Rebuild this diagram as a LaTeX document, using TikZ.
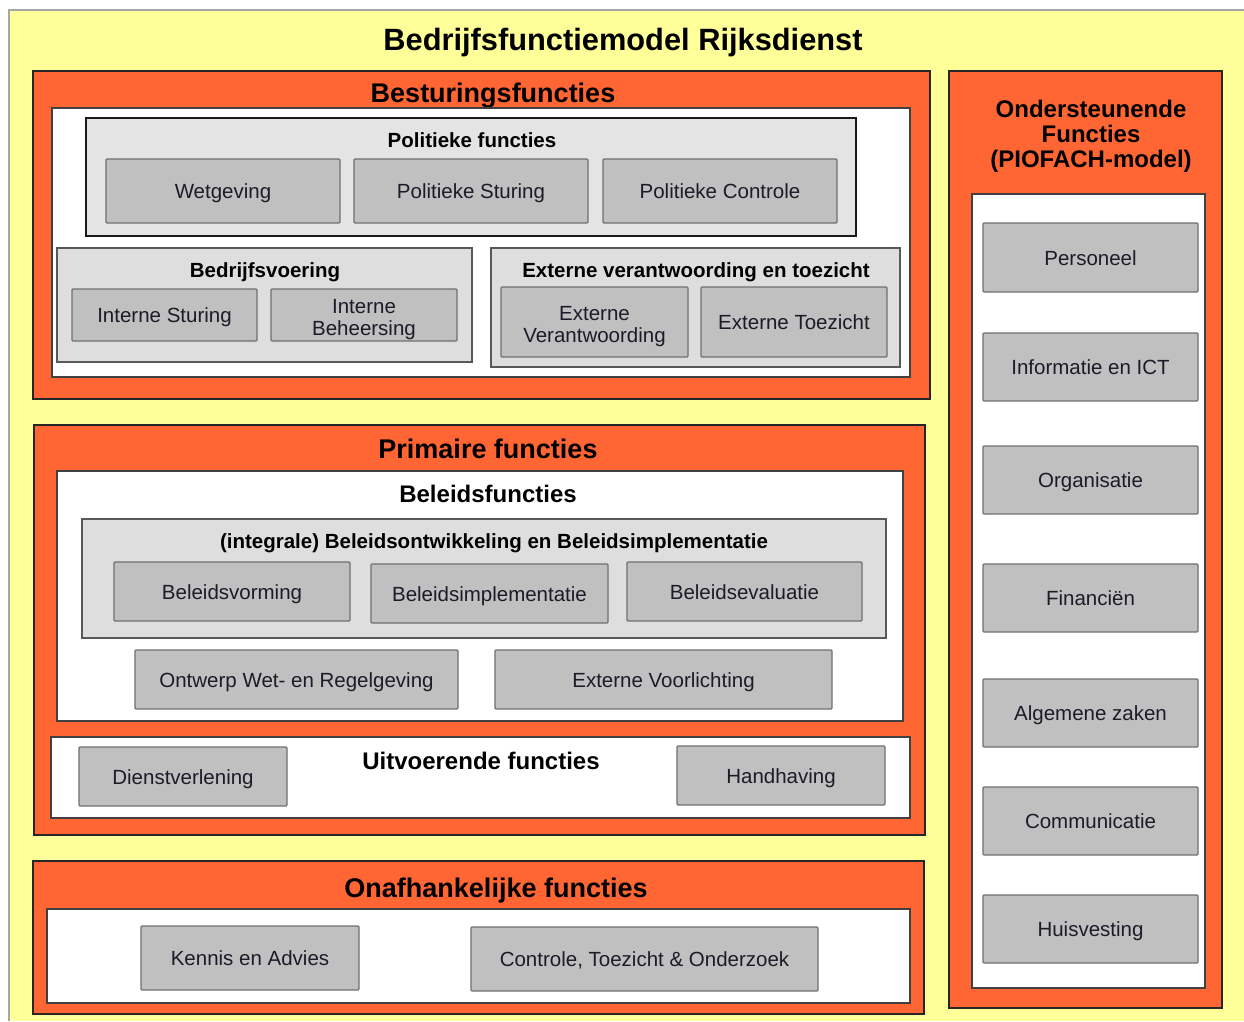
\documentclass[tikz,border=0pt]{standalone}
\usepackage{fontspec}
\setmainfont{Liberation Sans}
\definecolor{bgYellow}{HTML}{FFFF99}
\definecolor{panelOrange}{HTML}{FF6633}
\definecolor{groupGray}{HTML}{DEDEDE}
\definecolor{groupGrayLight}{HTML}{E4E4E4}
\definecolor{itemGray}{HTML}{C0C0C0}
\definecolor{itemEdge}{HTML}{707070}
\definecolor{itemText}{HTML}{1C1C28}
% Rectangle given by its corners: \Area{name}{style}{x1}{y1}{x2}{y2}
\newcommand\Area[6]{\node[#2, minimum width={(#5-#3)*1pt}, minimum height={(#6-#4)*1pt}] (#1) at ({(#3+#5)/2},{(#4+#6)/2}) {};}
% One-line function box: \Item{name}{text}{x1}{y1}{x2}{y2}
\newcommand\Item[6]{\node[item, text height=15pt, text depth=0pt, minimum width={(#5-#3)*1pt}, minimum height={(#6-#4)*1pt}] (#1) at ({(#3+#5)/2},{(#4+#6)/2}) {#2};}
% Two-line function box: \ItemII{name}{line 1}{line 2}{x1}{y1}{x2}{y2}
\newcommand\ItemII[7]{\node[item, minimum width={(#6-#4)*1pt}, minimum height={(#7-#5)*1pt}] (#1) at ({(#4+#6)/2},{(#5+#7)/2}) {\rule{0pt}{23pt}#2\\#3};}
\begin{document}
\begin{tikzpicture}[x=1pt,y=-1pt,
  every node/.style={inner sep=0pt, outer sep=0pt},
  panel/.style={fill=panelOrange, draw=black!85, line width=1.2pt},
  sheet/.style={fill=white, draw=black!75, line width=1.2pt},
  group/.style={fill=groupGray, draw=black!65, line width=1.2pt},
  groupdark/.style={fill=groupGrayLight, draw=black!90, line width=1.2pt},
  item/.style={fill=itemGray, draw=itemEdge, line width=1.3pt, rounded corners=1pt,
    align=center, text=itemText, font=\fontsize{20.5}{22}\selectfont},
  maintitle/.style={anchor=base, font=\bfseries\fontsize{30.8}{32}\selectfont},
  paneltitle/.style={anchor=base, font=\bfseries\fontsize{27}{29}\selectfont},
  sheettitle/.style={anchor=base, font=\bfseries\fontsize{24}{26}\selectfont},
  grouptitle/.style={anchor=base, font=\bfseries\fontsize{20.5}{22}\selectfont},
]
\useasboundingbox (0,0) rectangle (1244,1021);
% background
\fill[bgYellow] (9,10) rectangle (1244,1021);
\draw[black!35, line width=1.5pt] (9,1021) -- (9,10) -- (1244,10);
\node[maintitle] (tMain) at (623,50) {Bedrijfsfunctiemodel Rijksdienst};

% ---- Besturingsfuncties
\Area{pBest}{panel}{33}{71}{930}{399}
\node[paneltitle] (tBest) at (493,102) {Besturingsfuncties};
\Area{sBest}{sheet}{52}{108}{910}{377}
\Area{gPol}{groupdark}{86}{118}{856}{236}
\node[grouptitle] (tPol) at (472,147) {Politieke functies};
\Item{iWet}{Wetgeving}{106}{159}{340}{223}
\Item{iPS}{Politieke Sturing}{354}{159}{588}{223}
\Item{iPC}{Politieke Controle}{603}{159}{837}{223}
\Area{gBedr}{group}{57}{248}{472}{362}
\node[grouptitle] (tBedr) at (265,277) {Bedrijfsvoering};
\Item{iIS}{Interne Sturing}{72}{289}{257}{341}
\ItemII{iIB}{Interne}{Beheersing}{271}{289}{457}{341}
\Area{gExt}{group}{491}{248}{900}{367}
\node[grouptitle] (tExt) at (696,277) {Externe verantwoording en toezicht};
\ItemII{iEV}{Externe}{Verantwoording}{501}{287}{688}{357}
\Item{iET}{Externe Toezicht}{701}{287}{887}{357}

% ---- Primaire functies
\Area{pPrim}{panel}{34}{425}{925}{835}
\node[paneltitle] (tPrim) at (488,458) {Primaire functies};
\Area{sBel}{sheet}{57}{471}{903}{721}
\node[sheettitle] (tBel) at (488,502) {Beleidsfuncties};
\Area{gInt}{group}{82}{519}{886}{638}
\node[grouptitle] (tInt) at (494,548) {(integrale) Beleidsontwikkeling en Beleidsimplementatie};
\Item{iBV}{Beleidsvorming}{114}{562}{350}{621}
\Item{iBI}{Beleidsimplementatie}{371}{564}{608}{623}
\Item{iBE}{Beleidsevaluatie}{627}{562}{862}{621}
\Item{iOW}{Ontwerp Wet- en Regelgeving}{135}{650}{458}{709}
\Item{iEVo}{Externe Voorlichting}{495}{650}{832}{709}
\Area{sUit}{sheet}{51}{737}{910}{818}
\node[sheettitle] (tUit) at (481,769) {Uitvoerende functies};
\Item{iDV}{Dienstverlening}{79}{747}{287}{806}
\Item{iHH}{Handhaving}{677}{746}{885}{805}

% ---- Onafhankelijke functies
\Area{pOnaf}{panel}{33}{861}{924}{1014}
\node[paneltitle] (tOnaf) at (496,897) {Onafhankelijke functies};
\Area{sOnaf}{sheet}{47}{909}{910}{1003}
\Item{iKA}{Kennis en Advies}{141}{926}{359}{990}
\Item{iCTO}{Controle, Toezicht \& Onderzoek}{471}{927}{818}{991}

% ---- Ondersteunende functies
\Area{pOnd}{panel}{949}{71}{1222}{1008}
\node[align=center, font=\bfseries\fontsize{24}{25}\selectfont] (tOnd) at (1091,136)
  {Ondersteunende\\Functies\\(PIOFACH-model)};
\Area{sOnd}{sheet}{972}{194}{1205}{988}
\Item{iPer}{Personeel}{983}{223}{1198}{292}
\Item{iICT}{Informatie en ICT}{983}{333}{1198}{401}
\Item{iOrg}{Organisatie}{983}{446}{1198}{514}
\Item{iFin}{Financiën}{983}{564}{1198}{632}
\Item{iAZ}{Algemene zaken}{983}{679}{1198}{747}
\Item{iCom}{Communicatie}{983}{787}{1198}{855}
\Item{iHuis}{Huisvesting}{983}{895}{1198}{963}
\end{tikzpicture}
\end{document}
